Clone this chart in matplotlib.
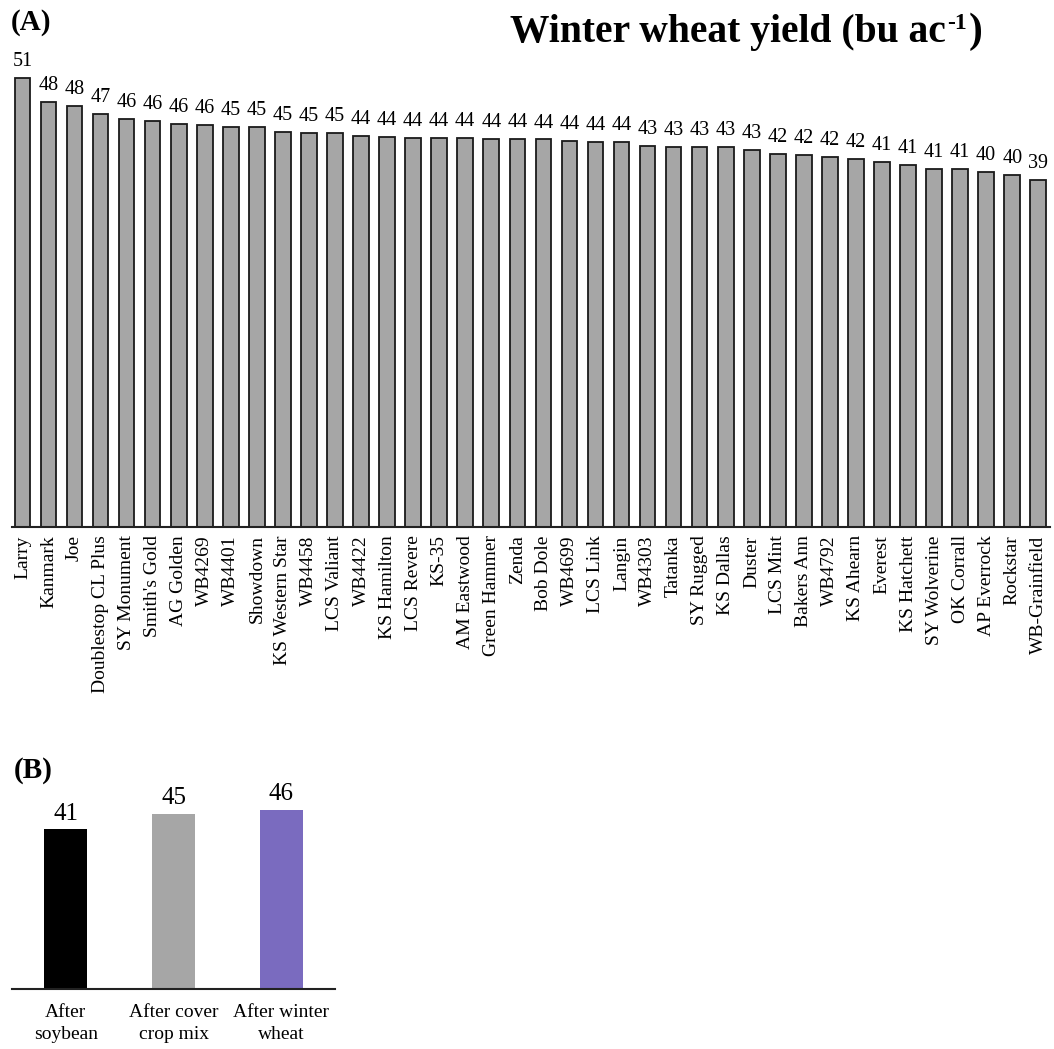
# Winter wheat variety yields and previous crop effect

import matplotlib.pyplot as plt

plt.rcParams["font.family"] = ["Liberation Serif", "DejaVu Serif"]

# panel A data
varieties = ["Larry", "Kanmark", "Joe", "Doublestop CL Plus", "SY Monument", "Smith's Gold",
             "AG Golden", "WB4269", "WB4401", "Showdown", "KS Western Star", "WB4458",
             "LCS Valiant", "WB4422", "KS Hamilton", "LCS Revere", "KS-35", "AM Eastwood",
             "Green Hammer", "Zenda", "Bob Dole", "WB4699", "LCS Link", "Langin", "WB4303",
             "Tatanka", "SY Rugged", "KS Dallas", "Duster", "LCS Mint", "Bakers Ann", "WB4792",
             "KS Ahearn", "Everest", "KS Hatchett", "SY Wolverine", "OK Corrall", "AP Everrock",
             "Rockstar", "WB-Grainfield"]
yields = [51.0, 48.3, 47.8, 46.9, 46.3, 46.1, 45.8, 45.6, 45.4, 45.4, 44.8, 44.7,
          44.7, 44.4, 44.3, 44.2, 44.2, 44.2, 44.1, 44.1, 44.0, 43.8, 43.7, 43.7, 43.3,
          43.2, 43.1, 43.1, 42.8, 42.4, 42.2, 42.0, 41.8, 41.4, 41.1, 40.7, 40.6, 40.3,
          40.0, 39.4]

# panel B data
prev_crops = ["After\nsoybean", "After cover\ncrop mix", "After winter\nwheat"]
prev_yields = [41, 45, 46]
prev_colors = ["#000000", "#a6a6a6", "#7a6bbf"]

W, H = 1054, 1049
fig = plt.figure(figsize=(W / 100, H / 100), dpi=100)

# panel A
ax = fig.add_axes([12 / W, 1 - 527 / H, 1038 / W, 458 / H])
x = range(len(varieties))
bars = ax.bar(x, yields, width=0.6, color="#a6a6a6", edgecolor="#1a1a1a", linewidth=1.3)
for b, v in zip(bars, yields):
    ax.annotate(f"{round(v)}", (b.get_x() + b.get_width() / 2, v),
                xytext=(0, 5), textcoords="offset points",
                ha="center", va="bottom", fontsize=14.5)
ax.set_xlim(-0.4, len(varieties) - 0.55)
ax.set_ylim(0, 52)
ax.set_xticks(list(x))
ax.set_xticklabels(varieties, rotation=90, fontsize=14)
ax.tick_params(axis="x", length=0, pad=6)
ax.set_yticks([])
for s in ["top", "right", "left"]:
    ax.spines[s].set_visible(False)
ax.spines["bottom"].set_linewidth(1.5)
ax.spines["bottom"].set_color("#222222")

fig.text(11 / W, 1 - 23 / H, "(A)", fontsize=21, fontweight="bold", va="center", ha="left")

# title with superscript built from three pieces
base_y = 1 - 42 / H
t1 = fig.text(510 / W, base_y, "Winter wheat yield (bu ac", fontsize=28.5,
              fontweight="bold", va="baseline", ha="left")
sup = ax.annotate("-1", xy=(1, 1 - 29 / H), xycoords=(t1, "figure fraction"),
                  xytext=(1, 0), textcoords="offset points", ha="left", va="baseline",
                  fontsize=17, fontweight="bold", annotation_clip=False)
ax.annotate(")", xy=(1, base_y), xycoords=(sup, "figure fraction"), xytext=(1.5, 0),
            textcoords="offset points", ha="left", va="baseline", fontsize=30,
            fontweight="bold", annotation_clip=False)

# panel B
bx = fig.add_axes([12 / W, 1 - 989 / H, 323 / W, 195 / H])
bars_b = bx.bar(range(3), prev_yields, width=0.4, color=prev_colors)
for b, v in zip(bars_b, prev_yields):
    bx.annotate(f"{v}", (b.get_x() + b.get_width() / 2, v), xytext=(0, 3),
                textcoords="offset points", ha="center", va="bottom", fontsize=18)
bx.set_xlim(-0.5, 2.5)
bx.set_ylim(0, 50)
bx.set_xticks(range(3))
bx.set_xticklabels(prev_crops, fontsize=14, linespacing=1.35)
bx.tick_params(axis="x", length=0, pad=11)
bx.set_yticks([])
for s in ["top", "right", "left"]:
    bx.spines[s].set_visible(False)
bx.spines["bottom"].set_linewidth(1.5)
bx.spines["bottom"].set_color("#222222")

fig.text(14 / W, 1 - 771 / H, "(B)", fontsize=21, fontweight="bold", va="center", ha="left")

fig.savefig("out.png", dpi=100)
